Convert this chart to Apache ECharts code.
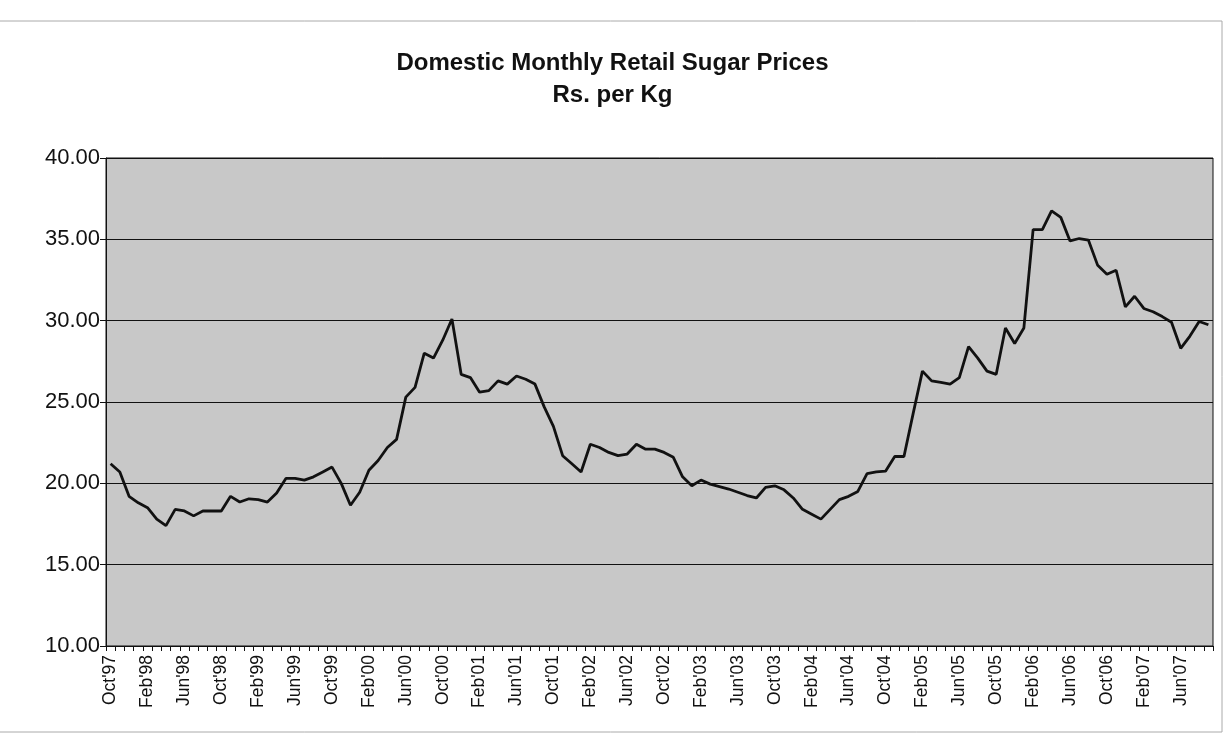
<!DOCTYPE html>
<html>
<head>
<meta charset="utf-8">
<script src="https://cdn.jsdelivr.net/npm/echarts@6/dist/echarts.min.js"></script>
<style>
  html, body { margin: 0; padding: 0; background: #fff; }
  #main { width: 1225px; height: 735px; }
</style>
</head>
<body>
<div id="main"></div>
<script>
// month names used for the category labels (Oct'97 .. Sep'07)
const monthNames = ['Jan', 'Feb', 'Mar', 'Apr', 'May', 'Jun', 'Jul', 'Aug', 'Sep', 'Oct', 'Nov', 'Dec']
const firstYear = 1997
const firstMonth = 9   // October
const monthCount = 120

// Rs. per Kg, one value per month
const prices = [
  21.2, 20.7, 19.2, 18.8, 18.5, 17.8, 17.4, 18.4, 18.3, 18.0,
  18.3, 18.3, 18.3, 19.2, 18.85, 19.05, 19.0, 18.85, 19.4, 20.3,
  20.3, 20.2, 20.4, 20.7, 21.0, 20.0, 18.65, 19.45, 20.8, 21.4,
  22.2, 22.7, 25.3, 25.9, 28.0, 27.7, 28.8, 30.1, 26.7, 26.5,
  25.6, 25.7, 26.3, 26.1, 26.6, 26.4, 26.1, 24.7, 23.5, 21.7,
  21.2, 20.7, 22.4, 22.2, 21.9, 21.7, 21.8, 22.4, 22.1, 22.1,
  21.9, 21.6, 20.4, 19.85, 20.2, 19.95, 19.8, 19.65, 19.45, 19.25,
  19.1, 19.75, 19.85, 19.6, 19.1, 18.4, 18.1, 17.8, 18.4, 19.0,
  19.2, 19.5, 20.6, 20.7, 20.75, 21.65, 21.65, 24.3, 26.9, 26.3,
  26.2, 26.1, 26.5, 28.4, 27.7, 26.9, 26.7, 29.55, 28.6, 29.55,
  35.6, 35.6, 36.75, 36.35, 34.9, 35.05, 34.95, 33.4, 32.85, 33.1,
  30.85, 31.5, 30.75, 30.55, 30.25, 29.9, 28.3, 29.05, 29.95, 29.75
]

const yMin = 10
const yMax = 40
const yStep = 5

// build the Oct'97 style labels
let months = []
for (let i = 0; i < monthCount; i++) {
  let m = (firstMonth + i) % 12
  let y = firstYear + Math.floor((firstMonth + i) / 12)
  months.push(monthNames[m] + "'" + String(y).slice(2))
}

let myChart = echarts.init(document.getElementById('main'))

myChart.setOption({
  animation: false,
  backgroundColor: '#fff',
  textStyle: { fontFamily: 'Liberation Sans, Arial, sans-serif' },
  title: {
    text: 'Domestic Monthly Retail Sugar Prices\nRs. per Kg',
    left: 'center',
    top: 42,
    textStyle: {
      fontSize: 24,
      fontWeight: 'bold',
      color: '#111',
      lineHeight: 32,
      align: 'center'
    }
  },
  graphic: [{
    type: 'rect',
    shape: { x: -10, y: 21, width: 1232, height: 711 },
    style: { fill: 'none', stroke: '#aaa', lineWidth: 1 },
    silent: true
  }],
  grid: {
    left: 106,
    right: 12,
    top: 158,
    bottom: 89,
    show: true,
    backgroundColor: '#c8c8c8',
    borderColor: '#111',
    borderWidth: 1
  },
  xAxis: {
    type: 'category',
    data: months,
    boundaryGap: true,
    axisLine: { lineStyle: { color: '#111', width: 1 } },
    axisTick: {
      show: true,
      interval: 0,
      length: 5,
      lineStyle: { color: '#111' }
    },
    axisLabel: {
      interval: 3,
      rotate: 90,
      fontSize: 17.5,
      color: '#111',
      margin: 9
    },
    splitLine: { show: false }
  },
  yAxis: {
    type: 'value',
    min: yMin,
    max: yMax,
    interval: yStep,
    axisLine: { show: true, lineStyle: { color: '#111', width: 1 } },
    axisTick: { show: true, length: 6, lineStyle: { color: '#111' } },
    axisLabel: {
      fontSize: 22,
      color: '#111',
      margin: 6,
      formatter: v => v.toFixed(2)
    },
    splitLine: { show: true, lineStyle: { color: '#111', width: 1.2 } }
  },
  series: [{
    name: 'Price',
    type: 'line',
    data: prices,
    symbol: 'none',
    lineStyle: { color: '#111', width: 2.8 }
  }]
})
</script>
</body>
</html>
